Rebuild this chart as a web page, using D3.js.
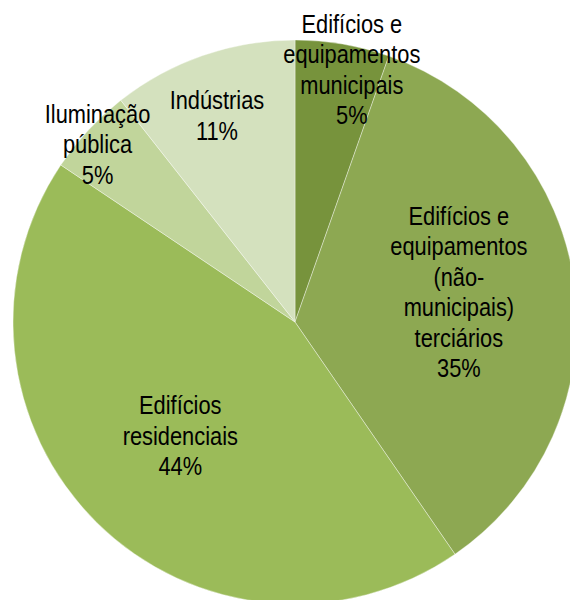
<!DOCTYPE html>
<html>
<head>
<meta charset="utf-8">
<script src="https://cdn.jsdelivr.net/npm/d3@7"></script>
<style>
html, body { margin: 0; padding: 0; background: #fff; }
svg { display: block; }
</style>
</head>
<body>
<svg id="chart" width="570" height="600"></svg>
<script>
// Data
const categories = [
  ["Edifícios e", "equipamentos", "municipais"],
  ["Edifícios e", "equipamentos", "(não-", "municipais)", "terciários"],
  ["Edifícios", "residenciais"],
  ["Iluminação", "pública"],
  ["Indústrias"]
];
const values = [5.4, 35.0, 44.0, 5.0, 10.6];
const percentLabels = ["5%", "35%", "44%", "5%", "11%"];
const colors = ["#77933C", "#8DA852", "#9BBB59", "#C1D59B", "#D4E1BE"];

// Layout
const W = 570, H = 600;
const cx = 295, cy = 322, R = 282;
const labelLayout = [
  { rf: 0.915, da: 3.0 },
  { rf: 0.59, da: -2.4 },
  { rf: 0.575, da: 0.4 },
  { rf: 0.94, da: -1.0 },
  { rf: 0.78, da: -1.7 }
];
const lineH = 30.5;
const fontSize = 26;
const xScale = 0.84;

const svg = d3.select("#chart");
const g = svg.append("g").attr("transform", `translate(${cx},${cy})`);

const pie = d3.pie().sort(null).value(d => d).startAngle(0).endAngle(2 * Math.PI);
const arcs = pie(values);
const arc = d3.arc().innerRadius(0).outerRadius(R);

g.selectAll("path.slice")
  .data(arcs)
  .join("path")
  .attr("class", "slice")
  .attr("d", arc)
  .attr("fill", (d, i) => colors[i])
  .attr("stroke", "rgba(255,255,255,0.55)")
  .attr("stroke-width", 0.7);

arcs.forEach((d, i) => {
  const mid = (d.startAngle + d.endAngle) / 2 + labelLayout[i].da * Math.PI / 180;
  const r = R * labelLayout[i].rf;
  const x = r * Math.sin(mid);
  const y = -r * Math.cos(mid);
  const lines = categories[i].concat([percentLabels[i]]);
  const n = lines.length;
  const t = g.append("text")
    .attr("transform", `translate(${x},${y}) scale(${xScale},1)`)
    .attr("text-anchor", "middle")
    .attr("font-family", "'Liberation Sans', Arial, sans-serif")
    .attr("font-size", fontSize)
    .attr("fill", "#000");
  lines.forEach((ln, k) => {
    t.append("tspan")
      .attr("x", 0)
      .attr("y", (k - (n - 1) / 2) * lineH + 8)
      .text(ln);
  });
});
</script>
</body>
</html>
